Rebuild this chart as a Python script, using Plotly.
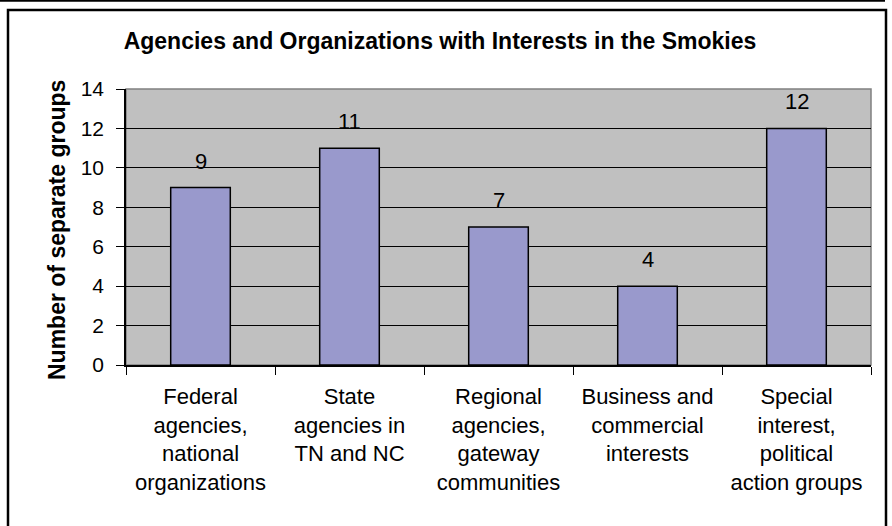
import plotly.graph_objects as go

categories = [
    "Federal<br>agencies,<br>national<br>organizations",
    "State<br>agencies in<br>TN and NC",
    "Regional<br>agencies,<br>gateway<br>communities",
    "Business and<br>commercial<br>interests",
    "Special<br>interest,<br>political<br>action groups",
]
values = [9, 11, 7, 4, 12]
y_ticks = [0, 2, 4, 6, 8, 10, 12, 14]

W, H = 892, 526
ML, MR, MT, MB = 126, 21, 89, 161
PW, PH = W - ML - MR, H - MT - MB

def px_x(p):
    return (p - ML) / PW

def px_y(p):
    return (H - MB - p) / PH

FONT = "Liberation Sans, Arial, sans-serif"

fig = go.Figure()
fig.add_trace(go.Bar(
    x=categories, y=values, width=0.4,
    marker=dict(color="#9999CC", line=dict(color="black", width=1.5)),
    hoverinfo="skip",
))

for c, v in zip(categories, values):
    fig.add_annotation(x=c, y=v, text=str(v), showarrow=False,
                       yanchor="bottom", yshift=12,
                       font=dict(family=FONT, size=22, color="black"))

fig.add_annotation(xref="paper", yref="paper", x=px_x(57), y=px_y(230),
                   text="<b>Number of separate groups</b>", textangle=-90,
                   showarrow=False, xanchor="center", yanchor="middle",
                   font=dict(family=FONT, size=23, color="black"))

shapes = [
    dict(type="rect", xref="paper", yref="paper", x0=0, y0=0, x1=1, y1=1,
         line=dict(color="#808080", width=1.5), layer="below"),
    dict(type="path", xref="paper", yref="paper",
         path=f"M {px_x(8)} {px_y(540)} L {px_x(8)} {px_y(10)} L {px_x(886)} {px_y(10)} L {px_x(886)} {px_y(540)}",
         line=dict(color="black", width=2.5)),
    dict(type="line", xref="paper", yref="paper",
         x0=px_x(0), x1=px_x(885), y0=px_y(0.8), y1=px_y(0.8),
         line=dict(color="black", width=2)),
]

fig.update_layout(
    width=W, height=H,
    margin=dict(l=ML, r=MR, t=MT, b=MB),
    paper_bgcolor="white", plot_bgcolor="#C0C0C0",
    showlegend=False,
    bargap=0.6,
    shapes=shapes,
    title=dict(text="<b>Agencies and Organizations with Interests in the Smokies</b>",
               x=440 / W, xref="container", xanchor="center",
               y=1 - 41 / H, yref="container", yanchor="middle",
               font=dict(family=FONT, size=23, color="black")),
    font=dict(family=FONT, size=21, color="black"),
)
fig.update_xaxes(
    showline=True, linecolor="black", linewidth=1.5,
    ticks="outside", ticklen=8, tickcolor="black", tickwidth=1,
    tickson="boundaries", showgrid=False,
    tickfont=dict(family=FONT, size=22, color="black"),
    ticklabelstandoff=11,
)
fig.update_yaxes(
    range=[0, 14], tickvals=y_ticks,
    showline=True, linecolor="black", linewidth=1.5,
    ticks="outside", ticklen=8, tickcolor="black", tickwidth=1,
    showgrid=True, gridcolor="black", gridwidth=1,
    zeroline=False,
    tickfont=dict(family=FONT, size=21, color="black"),
    ticklabelstandoff=8,
)

fig.write_html("out.html")
